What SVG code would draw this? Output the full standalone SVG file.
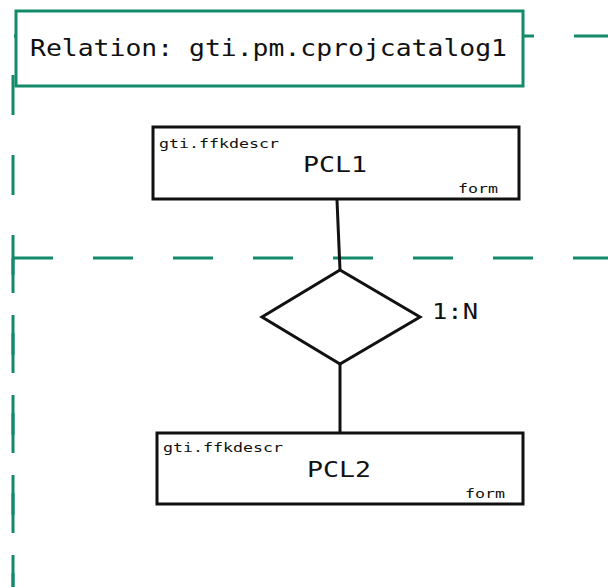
<svg xmlns="http://www.w3.org/2000/svg" width="608" height="587" viewBox="0 0 608 587">
<style>
.frame{fill:none;stroke:#138a6b;stroke-width:3;stroke-dasharray:40 40}
.ent{fill:#fff;stroke:#111;stroke-width:3}
.conn{fill:none;stroke:#111;stroke-width:3}
.mono{font-family:"DejaVu Sans Mono","Liberation Mono",monospace;fill:#111}
</style>
<rect width="608" height="587" fill="#fff"/>
<g id="frames">
<line class="frame" x1="14" y1="36" x2="608" y2="36"/>
<line class="frame" x1="13" y1="36" x2="13" y2="587" stroke-dashoffset="41"/>
<line class="frame" x1="13" y1="258" x2="608" y2="258"/>
<line class="frame" x1="13" y1="258" x2="13" y2="587" stroke-dashoffset="5"/>
</g>
<g id="relation">
<rect x="16" y="11" width="507" height="75" fill="#fff" stroke="#138a6b" stroke-width="3"/>
<text class="mono" x="30" y="56" font-size="23" textLength="477" lengthAdjust="spacingAndGlyphs">Relation: gti.pm.cprojcatalog1</text>
</g>
<g id="connectors">
<line class="conn" x1="337" y1="200" x2="340" y2="270"/>
<line class="conn" x1="340" y1="364" x2="340" y2="433"/>
</g>
<g id="rel-diamond">
<polygon class="ent" points="340,270 420,317 340,364 262,317"/>
<text class="mono" x="432" y="319" font-size="21" textLength="46" lengthAdjust="spacingAndGlyphs">1:N</text>
</g>
<g id="pcl1">
<rect class="ent" x="153" y="127" width="366" height="72"/>
<text class="mono" x="159" y="148" font-size="12.5" textLength="120" lengthAdjust="spacingAndGlyphs">gti.ffkdescr</text>
<text class="mono" x="303" y="172" font-size="22" textLength="64" lengthAdjust="spacingAndGlyphs">PCL1</text>
<text class="mono" x="458" y="193" font-size="12.5" textLength="40" lengthAdjust="spacingAndGlyphs">form</text>
</g>
<g id="pcl2">
<rect class="ent" x="157" y="433" width="366" height="71"/>
<text class="mono" x="163" y="452" font-size="12.5" textLength="120" lengthAdjust="spacingAndGlyphs">gti.ffkdescr</text>
<text class="mono" x="307" y="477" font-size="22" textLength="64" lengthAdjust="spacingAndGlyphs">PCL2</text>
<text class="mono" x="465" y="498" font-size="12.5" textLength="40" lengthAdjust="spacingAndGlyphs">form</text>
</g>
</svg>
